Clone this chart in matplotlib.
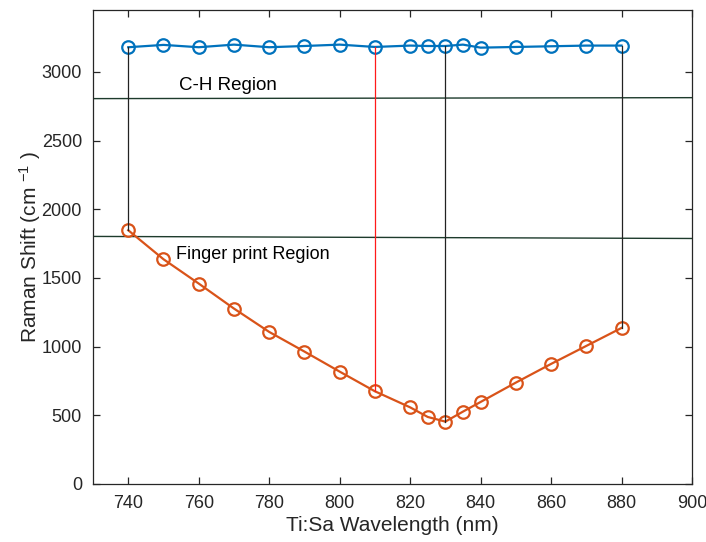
import numpy as np
import matplotlib.pyplot as plt

plt.rcParams['font.family'] = ['Liberation Sans', 'DejaVu Sans']
plt.rcParams['mathtext.fontset'] = 'custom'
plt.rcParams['mathtext.rm'] = 'Liberation Sans'
plt.rcParams['mathtext.it'] = 'Liberation Sans'

# excitation wavelengths (nm)
wl = [740, 750, 760, 770, 780, 790, 800, 810, 820, 825, 830, 835, 840, 850, 860, 870, 880]
# upper limit of the reachable Raman shift (cm-1)
shift_hi = [3179, 3196, 3179, 3198, 3179, 3188, 3198, 3181, 3191, 3188, 3188, 3198, 3176, 3181, 3186, 3191, 3191]
# lower limit
shift_lo = [1847, 1636, 1459, 1277, 1107, 964, 818, 675, 558, 488, 454, 527, 597, 738, 874, 1005, 1136]

# marked wavelengths and the colour of their connector
marked = [740, 810, 830, 880]
marked_col = ['#222222', '#ff1a1a', '#222222', '#222222']

# region boundaries (start/end y of the hand-drawn lines)
ch_line = [2805, 2812]
fp_line = [1802, 1787]

blue = '#0072BD'
orange = '#D95319'

fig = plt.figure(figsize=(7.06, 5.42), dpi=100)
ax = fig.add_axes([93/706, 58/542, 599/706, 474/542])

ax.plot(wl, shift_hi, '-o', color=blue, lw=1.6, ms=9, mfc='none', mew=1.6, zorder=3)
ax.plot(wl, shift_lo, '-o', color=orange, lw=1.6, ms=9, mfc='none', mew=1.6, zorder=3)

for w, c in zip(marked, marked_col):
    i = wl.index(w)
    ax.plot([w, w], [shift_lo[i], shift_hi[i]], color=c, lw=0.9, zorder=4)

ax.plot([730, 900], ch_line, color='#1d3b2c', lw=1.0, zorder=2)
ax.plot([730, 900], fp_line, color='#1d3b2c', lw=1.0, zorder=2)

ax.text(754.4, 2904, 'C-H Region', fontsize=13.5, va='center', ha='left')
ax.text(753.6, 1667, 'Finger print Region', fontsize=13, va='center', ha='left')

ax.set_xlim(730, 900)
ax.set_ylim(0, 3450)
ax.set_xticks(np.arange(740, 901, 20))
ax.set_yticks(np.arange(0, 3001, 500))

ax.tick_params(direction='in', top=True, right=True, length=5, width=0.9,
               labelsize=13, colors='#262626', pad=8)
for s in ax.spines.values():
    s.set_color('#262626')
    s.set_linewidth(0.9)

ax.set_xlabel('Ti:Sa Wavelength (nm)', fontsize=15, color='#262626', labelpad=3)
ax.set_ylabel('Raman Shift (cm $^{-1}$ )', fontsize=15, color='#262626', labelpad=-1)

fig.savefig('out.png', dpi=100)
